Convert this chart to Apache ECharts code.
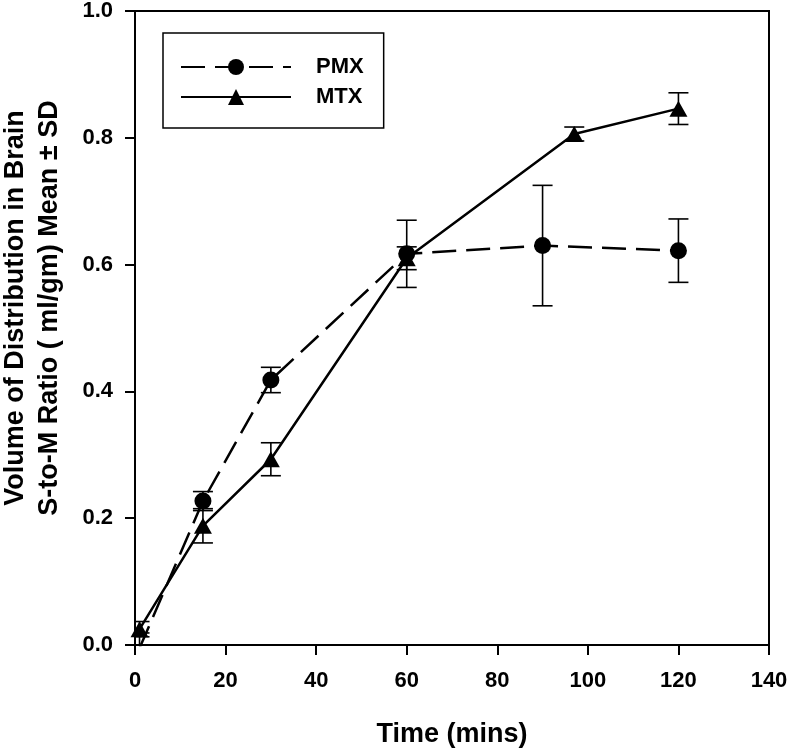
<!DOCTYPE html>
<html>
<head>
<meta charset="utf-8">
<style>html,body{margin:0;padding:0;background:#fff}#c{width:789px;height:749px}</style>
<script src="https://cdn.jsdelivr.net/npm/echarts@6/dist/echarts.min.js"></script>
</head>
<body>
<div id="c"></div>
<script>
// Data
const pmxTime = [1, 15, 30, 60, 90, 120];
const pmxMean = [-0.005, 0.227, 0.418, 0.617, 0.630, 0.622];
const pmxSD   = [0.024, 0.015, 0.020, 0.053, 0.095, 0.050];

const mtxTime = [1, 15, 30, 60, 97, 120];
const mtxMean = [0.025, 0.188, 0.293, 0.610, 0.806, 0.846];
const mtxSD   = [0.012, 0.027, 0.026, 0.018, 0.011, 0.025];

const xTicks = [0, 20, 40, 60, 80, 100, 120, 140];
const yTicks = [0.0, 0.2, 0.4, 0.6, 0.8, 1.0];

const FONT = '"Liberation Sans", Arial, sans-serif';

function pts(t, m) { return t.map((v, i) => [v, m[i]]); }
function errs(t, m, s) { return t.map((v, i) => [v, m[i] - s[i], m[i] + s[i]]); }

function errRender(params, api) {
  const x = api.value(0);
  const lo = api.coord([x, api.value(1)]);
  const hi = api.coord([x, api.value(2)]);
  const hw = 10;
  const style = { stroke: '#000', lineWidth: 1.6 };
  return {
    type: 'group',
    children: [
      { type: 'line', shape: { x1: lo[0], y1: lo[1], x2: hi[0], y2: hi[1] }, style },
      { type: 'line', shape: { x1: lo[0] - hw, y1: lo[1], x2: lo[0] + hw, y2: lo[1] }, style },
      { type: 'line', shape: { x1: hi[0] - hw, y1: hi[1], x2: hi[0] + hw, y2: hi[1] }, style }
    ]
  };
}

const chart = echarts.init(document.getElementById('c'), null, { renderer: 'canvas' });
chart.setOption({
  animation: false,
  backgroundColor: '#fff',
  grid: { left: 135, right: 20, top: 11, bottom: 104, outerBoundsMode: 'none', containLabel: false,
    show: true, borderColor: '#000', borderWidth: 2, backgroundColor: 'transparent' },
  legend: {
    orient: 'vertical',
    left: 163, top: 33,
    padding: [23, 20, 20, 17],
    itemWidth: 110, itemHeight: 20, itemGap: 8,
    borderColor: '#000', borderWidth: 1.5,
    backgroundColor: '#fff',
    data: ['PMX', 'MTX'],
    textStyle: { fontFamily: FONT, fontWeight: 'bold', fontSize: 22, color: '#000', padding: [0, 0, 0, 20] }
  },
  xAxis: {
    type: 'value', min: 0, max: 140, interval: 20,
    name: 'Time (mins)', nameLocation: 'middle', nameGap: 76,
    nameTextStyle: { fontFamily: FONT, fontWeight: 'bold', fontSize: 27, color: '#000' },
    axisLine: { show: true, lineStyle: { color: '#000', width: 2 } },
    axisTick: { show: true, length: 10, lineStyle: { color: '#000', width: 2 } },
    axisLabel: { margin: 25, fontFamily: FONT, fontWeight: 'bold', fontSize: 22, color: '#000',
      customValues: xTicks, formatter: v => String(v) },
    splitLine: { show: false }
  },
  yAxis: {
    type: 'value', min: 0, max: 1, interval: 0.2,
    name: 'Volume of Distribution in Brain\nS-to-M Ratio ( ml/gm) Mean ± SD',
    nameLocation: 'middle', nameGap: 68,
    nameTextStyle: { fontFamily: FONT, fontWeight: 'bold', fontSize: 27, color: '#000', lineHeight: 34,
      padding: [0, 0, 0, 40] },
    axisLine: { show: true, lineStyle: { color: '#000', width: 2 } },
    axisTick: { show: true, length: 10, lineStyle: { color: '#000', width: 2 } },
    axisLabel: { margin: 22, fontFamily: FONT, fontWeight: 'bold', fontSize: 22, color: '#000',
      customValues: yTicks, formatter: v => v.toFixed(1) },
    splitLine: { show: false }
  },
  series: [
    {
      name: 'PMX SD', type: 'custom', renderItem: errRender, clip: true,
      data: errs(pmxTime, pmxMean, pmxSD), z: 2
    },
    {
      name: 'MTX SD', type: 'custom', renderItem: errRender, clip: true,
      data: errs(mtxTime, mtxMean, mtxSD), z: 2
    },
    {
      name: 'PMX', type: 'line', data: pts(pmxTime, pmxMean), clip: true,
      symbol: 'circle', symbolSize: 17, showSymbol: true,
      lineStyle: { color: '#000', width: 2.5, type: [24, 10] },
      itemStyle: { color: '#000' }, z: 3
    },
    {
      name: 'MTX', type: 'line', data: pts(mtxTime, mtxMean), clip: true,
      symbol: 'triangle', symbolSize: [18, 16], showSymbol: true,
      lineStyle: { color: '#000', width: 2.5 },
      itemStyle: { color: '#000' }, z: 3
    }
  ]
});
</script>
</body>
</html>
